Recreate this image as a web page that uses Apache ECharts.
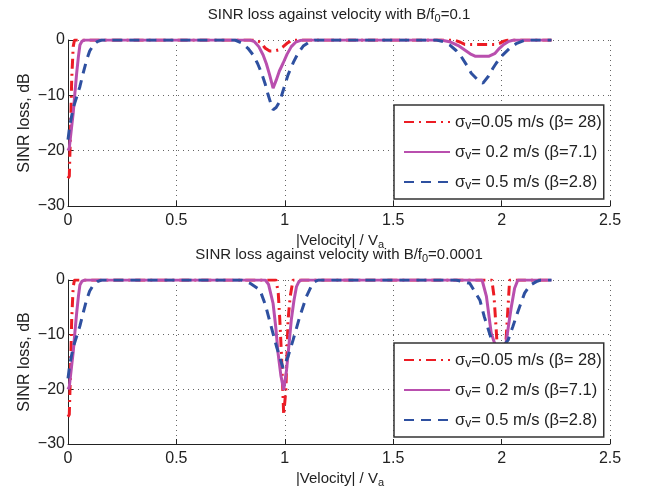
<!DOCTYPE html>
<html><head><meta charset="utf-8">
<script src="https://cdn.jsdelivr.net/npm/echarts@6/dist/echarts.min.js"></script>
<style>html,body{margin:0;padding:0;background:#fff}#c{width:645px;height:495px}</style>
</head><body><div id="c"></div>
<script>
// ---- tick labels / texts ----
const xTicks = ['0', '0.5', '1', '1.5', '2', '2.5'];
const yTicks = ['0', '-10', '-20', '-30'];
const legendLabels = ['=0.05 m/s (β= 28)', '= 0.2 m/s (β=7.1)', '= 0.5 m/s (β=2.8)'];
const titleValues = ['0.1', '0.0001'];

// ---- top plot (B/f0 = 0.1) ----
const topRedX = [0, 0.006, 0.012, 0.017, 0.024, 0.03, 0.87, 0.89, 0.91, 0.93, 0.95, 0.97, 0.99, 1.01, 1.03, 1.04, 1.78, 1.81, 1.83, 1.97, 1.99, 2.01, 2.03, 2.23];
const topRedY = [-25, -24.6, -16, -7.2, -1.2, 0, 0, -0.5, -1.5, -2.0, -2.0, -1.8, -1.3, -0.6, -0.1, 0, 0, -0.4, -0.8, -0.8, -0.6, -0.2, 0, 0];

const topMagX = [0, 0.006, 0.015, 0.024, 0.032, 0.04, 0.048, 0.055, 0.065, 0.078, 0.84, 0.86, 0.88, 0.9, 0.915, 0.93, 0.946, 0.96, 0.975, 0.992, 1.01, 1.03, 1.05, 1.07, 1.085, 1.72, 1.76, 1.8, 1.83, 1.86, 1.88, 1.94, 1.97, 1.99, 2.01, 2.03, 2.055, 2.23];
const topMagY = [-20, -19.5, -16.3, -13.2, -9.5, -6, -3, -0.9, -0.2, 0, 0, -0.3, -1.2, -2.7, -4.3, -6.3, -8.7, -7.3, -5.6, -4.2, -2.6, -1.2, -0.4, -0.1, 0, 0, -0.3, -1.0, -1.8, -2.6, -2.95, -2.95, -2.4, -1.5, -0.8, -0.3, 0, 0];

const topBlueX = [0, 0.008, 0.024, 0.04, 0.055, 0.07, 0.086, 0.1, 0.117, 0.135, 0.155, 0.77, 0.8, 0.83, 0.854, 0.875, 0.893, 0.91, 0.923, 0.935, 0.946, 0.96, 0.977, 0.995, 1.015, 1.04, 1.061, 1.085, 1.115, 1.14, 1.7, 1.73, 1.76, 1.79, 1.814, 1.84, 1.86, 1.885, 1.914, 1.94, 1.96, 1.975, 2.0, 2.037, 2.07, 2.11, 2.23];
const topBlueY = [-18, -15.5, -12.3, -10.3, -8.4, -6, -3.6, -2, -0.9, -0.3, 0, 0, -0.5, -1.5, -2.7, -4.3, -6, -8, -9.9, -11.4, -12.6, -12.2, -11.1, -8.8, -6.3, -4, -2.4, -1.1, -0.3, 0, 0, -0.3, -0.9, -1.9, -3, -4.6, -6, -7, -7.8, -6.5, -5.1, -4.2, -2.9, -1.5, -0.6, 0, 0];

// ---- bottom plot (B/f0 = 0.0001) ----
const botRedX = [0, 0.006, 0.012, 0.017, 0.024, 0.03, 0.96, 0.97, 0.977, 0.985, 0.995, 1.005, 1.015, 1.025, 1.038, 1.955, 1.965, 1.975, 1.99, 2.0, 2.01, 2.025, 2.037, 2.23];
const botRedY = [-25, -24.6, -16, -7.2, -1.2, 0, 0, -2.5, -7.3, -14, -24.7, -20, -7.3, -3, 0, 0, -3, -9, -19, -22, -18, -8, 0, 0];

const botMagX = [0, 0.006, 0.015, 0.024, 0.032, 0.04, 0.048, 0.055, 0.065, 0.078, 0.91, 0.925, 0.946, 0.958, 0.969, 0.982, 0.995, 1.008, 1.02, 1.03, 1.042, 1.054, 1.065, 1.077, 1.91, 1.93, 1.952, 1.968, 1.98, 1.995, 2.01, 2.02, 2.035, 2.045, 2.06, 2.075, 2.23];
const botMagY = [-20, -19.5, -16.3, -13.2, -9.5, -6, -3, -0.9, -0.2, 0, 0, -0.8, -4.3, -8.5, -13.4, -17.5, -20.1, -16.5, -11.5, -7.3, -3.8, -1.2, -0.3, 0, 0, -3, -9.7, -11.6, -14, -16, -14, -11.6, -7.5, -4.9, -1.5, 0, 0];

const botBlueX = [0, 0.008, 0.024, 0.04, 0.055, 0.07, 0.086, 0.1, 0.117, 0.135, 0.155, 0.8, 0.84, 0.885, 0.91, 0.931, 0.962, 0.992, 1.015, 1.038, 1.069, 1.1, 1.12, 1.138, 1.155, 1.79, 1.82, 1.853, 1.9, 1.92, 1.952, 1.99, 2.03, 2.052, 2.075, 2.106, 2.13, 2.16, 2.18, 2.23];
const botBlueY = [-18, -15.5, -12.3, -10.3, -8.4, -6, -3.6, -2, -0.9, -0.3, 0, 0, -0.6, -1.8, -4.5, -7.6, -12.2, -16.1, -14, -11, -6.7, -3, -1.3, -0.3, 0, 0, -0.3, -0.6, -3.7, -6.7, -10.7, -13, -11, -8.5, -5.8, -2.4, -1, -0.3, 0, 0];

const FF = '"Liberation Sans", Arial, Helvetica, sans-serif';
const TXT = '#222';
const zip = (xs, ys) => xs.map((x, i) => [x, ys[i]]);

const names = ['s005', 's02', 's05'];
const colors = ['#ec1c24', '#b94fae', '#2e50a0'];
const dashes = [[10, 5, 2, 5], 'solid', [10, 7]];
const plotData = [
  [[topRedX, topRedY], [topMagX, topMagY], [topBlueX, topBlueY]],
  [[botRedX, botRedY], [botMagX, botMagY], [botBlueX, botBlueY]]
];

const grids = [
  { left: 68, right: 35, top: 40, height: 166 },
  { left: 68, right: 35, top: 280, height: 164 }
];

const splitStyle = { color: '#666', type: [1, 4], width: 1 };

const xAxes = [0, 1].map(i => ({
  type: 'value', gridIndex: i, min: 0, max: 2.5, interval: 0.5,
  axisLine: { show: true, onZero: false, lineStyle: { color: TXT, width: 1 } },
  axisTick: { show: true, inside: true, length: 5, lineStyle: { color: TXT } },
  axisLabel: { formatter: v => xTicks[Math.round(v / 0.5)], fontSize: 16, fontFamily: FF, color: TXT, margin: 7 },
  splitLine: { show: true, lineStyle: splitStyle }
}));
const yAxes = [0, 1].map(i => ({
  type: 'value', gridIndex: i, min: -30, max: 0, interval: 10,
  axisLine: { show: true, onZero: false, lineStyle: { color: TXT, width: 1 } },
  axisTick: { show: true, inside: true, length: 5, lineStyle: { color: TXT } },
  axisLabel: { formatter: v => yTicks[Math.round(-v / 10)].replace('-', '\u2212'), fontSize: 16, fontFamily: FF, color: TXT, margin: 3 },
  splitLine: { show: true, lineStyle: splitStyle }
}));

const series = [];
[0, 1].forEach(g => {
  plotData[g].forEach((d, k) => {
    series.push({
      type: 'line', name: names[k], xAxisIndex: g, yAxisIndex: g,
      data: zip(d[0], d[1]), symbol: 'none', showSymbol: false, animation: false,
      lineStyle: { color: colors[k], width: 3, type: dashes[k] },
      itemStyle: { color: colors[k] }, z: 2 + k
    });
  });
});

const legendRich = {
  a: { fontSize: 16.5, fontFamily: FF, color: TXT, lineHeight: 20 },
  s: { fontSize: 12, fontFamily: FF, color: TXT, lineHeight: 12, padding: [8, 0, 0, 0] }
};
const legends = [105, 343].map(top => ({
  orient: 'vertical', left: 394, top: top, selectedMode: false,
  data: names, itemWidth: 46, itemHeight: 14, itemGap: 10,
  padding: [7, 2, 7, 9], backgroundColor: '#fff', borderColor: '#333', borderWidth: 1.5,
  itemStyle: { color: 'rgba(0,0,0,0)', borderWidth: 0, opacity: 0 },
  formatter: n => '{a|σ}{s|v}{a|' + legendLabels[names.indexOf(n)] + '}',
  textStyle: { fontSize: 16.5, fontFamily: FF, color: TXT, rich: legendRich }, z: 10
}));

const gRich = {
  a: { fontSize: 15, fontFamily: FF, fill: TXT, lineHeight: 20 },
  s: { fontSize: 11, fontFamily: FF, fill: TXT, lineHeight: 12, padding: [8, 0, 0, 0] },
  b: { fontSize: 16, fontFamily: FF, fill: TXT, lineHeight: 20 }
};
function gtext(x, y, text, rot) {
  return { type: 'text', x: x, y: y, rotation: rot || 0, z: 20,
    style: { text: text, align: 'center', verticalAlign: 'middle', fontSize: 15, fontFamily: FF, fill: TXT, rich: gRich } };
}
const graphic = [
  gtext(339, 15, '{a|SINR loss against velocity with B/f}{s|0}{a|=' + titleValues[0] + '}'),
  gtext(339, 255, '{a|SINR loss against velocity with B/f}{s|0}{a|=' + titleValues[1] + '}'),
  gtext(340, 241, '{a||Velocity| / V}{s|a}'),
  gtext(340, 479, '{a||Velocity| / V}{s|a}'),
  gtext(25, 123, '{b|SINR loss, dB}', Math.PI / 2),
  gtext(25, 362, '{b|SINR loss, dB}', Math.PI / 2)
];

const chart = echarts.init(document.getElementById('c'), null, { renderer: 'canvas' });
chart.setOption({
  backgroundColor: '#fff', animation: false,
  grid: grids, xAxis: xAxes, yAxis: yAxes, series: series, legend: legends, graphic: graphic
});
</script></body></html>
